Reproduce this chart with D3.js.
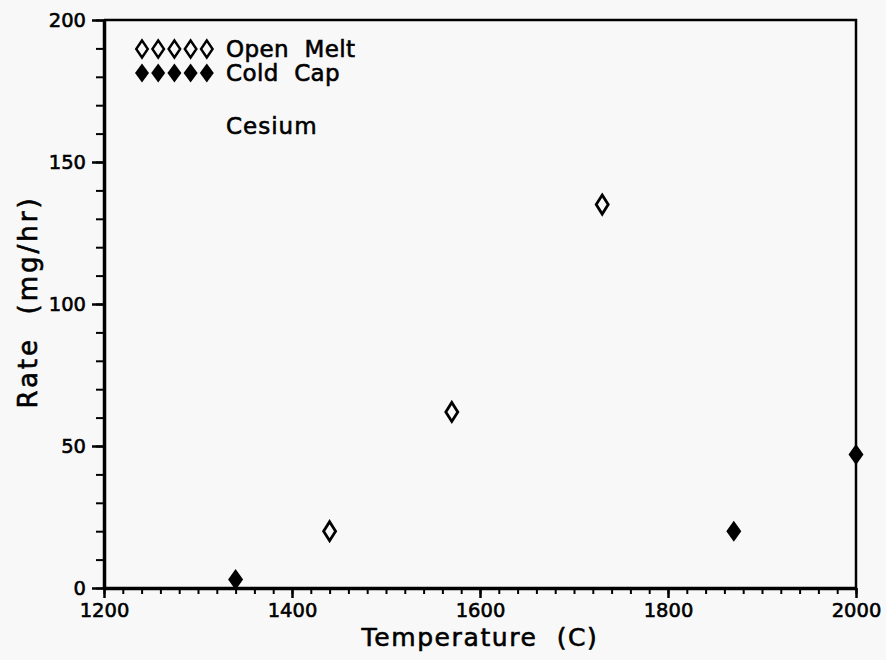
<!DOCTYPE html>
<html>
<head>
<meta charset="utf-8">
<script src="https://cdn.jsdelivr.net/npm/d3@7"></script>
<style>
  html, body { margin: 0; padding: 0; background: #f8f8f8; }
  svg { display: block; }
  text { font-family: "DejaVu Sans", sans-serif; fill: #000; stroke: #000; stroke-width: 0.6; white-space: pre; }
</style>
</head>
<body>
<div id="chart"></div>
<script>
// ---- data ----
const openTemp = [1440, 1570, 1730];
const openRate = [20, 62, 135];
const coldTemp = [1340, 1870, 2000];
const coldRate = [3, 20, 47];

const xTicks = [1200, 1400, 1600, 1800, 2000];
const yTicks = [0, 50, 100, 150, 200];
const legendLabels = ["Open  Melt", "Cold  Cap"];
const noteLabel = "Cesium";

const width = 886, height = 660;
const plotL = 104, plotR = 856, plotT = 20, plotB = 588;

const svg = d3.select("#chart").append("svg")
  .attr("width", width)
  .attr("height", height);

const x = d3.scaleLinear().domain([1200, 2000]).range([plotL, plotR]);
const y = d3.scaleLinear().domain([0, 200]).range([plotB, plotT]);

// diamond path (taller than wide)
function diamond(w, h) {
  return `M0,${-h}L${w},0L0,${h}L${-w},0Z`;
}

// frame top / right
svg.append("path")
  .attr("d", `M${plotL},${plotT}H${plotR}V${plotB}`)
  .attr("fill", "none")
  .attr("stroke", "#000")
  .attr("stroke-width", 2.5);

// minor ticks x
const xMinor = svg.append("g")
  .attr("transform", `translate(0,${plotB})`)
  .call(d3.axisBottom(x).tickValues(d3.range(1200, 2001, 20)).tickSize(6).tickFormat(""));
xMinor.select(".domain").remove();
xMinor.selectAll("line").attr("stroke-width", 2);

const xAxis = svg.append("g")
  .attr("transform", `translate(0,${plotB})`)
  .call(d3.axisBottom(x).tickValues(xTicks).tickSize(10).tickPadding(5)
    .tickSizeOuter(0).tickFormat(d3.format("d")));
xAxis.select(".domain").attr("stroke-width", 3.5);
xAxis.selectAll("line").attr("stroke-width", 2.5);
xAxis.selectAll("text")
  .attr("font-size", 19.5)
  .attr("font-family", "DejaVu Sans")
  .attr("fill", "#000");

// minor ticks y
const yMinor = svg.append("g")
  .attr("transform", `translate(${plotL},0)`)
  .call(d3.axisLeft(y).tickValues(d3.range(0, 201, 10)).tickSize(8).tickFormat(""));
yMinor.select(".domain").remove();
yMinor.selectAll("line").attr("stroke-width", 2);

const yAxis = svg.append("g")
  .attr("transform", `translate(${plotL},0)`)
  .call(d3.axisLeft(y).tickValues(yTicks).tickSize(12).tickPadding(6).tickSizeOuter(0));
yAxis.select(".domain").attr("stroke-width", 3.5);
yAxis.selectAll("line").attr("stroke-width", 2.5);
yAxis.selectAll("text")
  .attr("font-size", 19.5)
  .attr("font-family", "DejaVu Sans")
  .attr("fill", "#000");

// axis titles
svg.append("text")
  .attr("x", x(1600))
  .attr("y", 646)
  .attr("text-anchor", "middle")
  .attr("font-size", 25)
  .attr("letter-spacing", 1.6)
  .text("Temperature  (C)");

svg.append("text")
  .attr("transform", `translate(37,302) rotate(-90)`)
  .attr("text-anchor", "middle")
  .attr("font-size", 26)
  .attr("letter-spacing", 3)
  .text("Rate  (mg/hr)");

// points
svg.selectAll(".open")
  .data(openTemp.map((t, i) => ({ t, r: openRate[i] })))
  .enter().append("path")
  .attr("class", "open")
  .attr("d", diamond(6, 9.5))
  .attr("transform", d => `translate(${x(d.t)},${y(d.r)})`)
  .attr("fill", "#f8f8f8")
  .attr("stroke", "#000")
  .attr("stroke-width", 2.8);

svg.selectAll(".cold")
  .data(coldTemp.map((t, i) => ({ t, r: coldRate[i] })))
  .enter().append("path")
  .attr("class", "cold")
  .attr("d", diamond(7.5, 10.5))
  .attr("transform", d => `translate(${x(d.t)},${y(d.r)})`)
  .attr("fill", "#000");

// legend
const legend = svg.append("g");
legendLabels.forEach((lab, row) => {
  const cy = 49 + row * 24;
  for (let k = 0; k < 5; k++) {
    const cx = 142 + k * 16.2;
    legend.append("path")
      .attr("d", row === 0 ? diamond(5.8, 8.5) : diamond(7, 9.5))
      .attr("transform", `translate(${cx},${cy})`)
      .attr("fill", row === 0 ? "#f8f8f8" : "#000")
      .attr("stroke", row === 0 ? "#000" : "none")
      .attr("stroke-width", 2.4);
  }
  legend.append("text")
    .attr("x", 226)
    .attr("y", cy + 8)
    .attr("font-size", 23)
    .attr("letter-spacing", 0.4)
    .text(lab);
});

svg.append("text")
  .attr("x", 226)
  .attr("y", 134)
  .attr("font-size", 23)
  .attr("letter-spacing", 1)
  .text(noteLabel);
</script>
</body>
</html>
